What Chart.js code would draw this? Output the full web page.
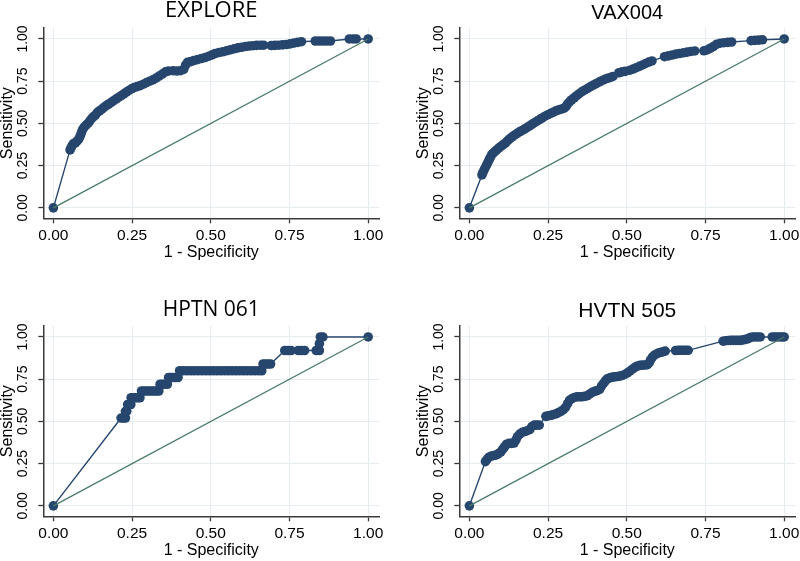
<!DOCTYPE html>
<html>
<head>
<meta charset="utf-8">
<script src="https://cdn.jsdelivr.net/npm/chart.js@4.4.1/dist/chart.umd.min.js"></script>
<style>
  body { margin: 0; background: #fff; }
  #wrap { position: relative; width: 800px; height: 561px; background: #fff; }
  canvas { position: absolute; }
</style>
</head>
<body>
<div id="wrap">
  <canvas id="p1" width="384" height="263" style="left:0;top:0"></canvas>
  <canvas id="p2" width="384" height="263" style="left:416px;top:0"></canvas>
  <canvas id="p3" width="384" height="263" style="left:0;top:298px"></canvas>
  <canvas id="p4" width="384" height="263" style="left:416px;top:298px"></canvas>
</div>
<script>
// tick labels on both axes
const tickValues = [0, 0.25, 0.5, 0.75, 1];
const panelTitles = ['EXPLORE', 'VAX004', 'HPTN 061', 'HVTN 505'];

// [1 - specificity, sensitivity]
const exploreRoc = [[0,0],
  [0.053,0.343],[0.056,0.355],[0.060,0.370],[0.064,0.380],[0.070,0.385],[0.075,0.395],[0.080,0.405],[0.084,0.420],[0.087,0.435],[0.090,0.450],
  [0.093,0.465],[0.098,0.478],[0.104,0.490],[0.110,0.500],[0.116,0.515],[0.122,0.530],[0.128,0.540],[0.134,0.550],[0.140,0.565],[0.147,0.575],
  [0.154,0.585],[0.161,0.595],[0.168,0.605],[0.176,0.615],[0.184,0.625],[0.192,0.635],[0.200,0.645],[0.208,0.655],[0.216,0.665],[0.224,0.675],
  [0.232,0.685],[0.240,0.695],[0.248,0.705],[0.256,0.712],[0.266,0.718],[0.276,0.724],[0.286,0.732],[0.296,0.742],[0.306,0.750],[0.316,0.758],
  [0.326,0.768],[0.336,0.780],[0.346,0.792],[0.356,0.805],[0.365,0.810],
  [0.380,0.812],[0.392,0.810],[0.404,0.812],[0.414,0.820],[0.420,0.845],[0.426,0.862],[0.436,0.866],[0.446,0.872],[0.458,0.878],[0.470,0.884],
  [0.482,0.890],[0.494,0.898],[0.504,0.906],[0.514,0.914],[0.526,0.920],[0.538,0.924],[0.550,0.930],[0.562,0.936],[0.574,0.942],[0.586,0.947],
  [0.598,0.951],[0.610,0.955],[0.622,0.958],[0.634,0.960],[0.646,0.962],[0.658,0.963],[0.668,0.963],
  [0.692,0.961],[0.704,0.962],[0.716,0.963],[0.728,0.965],[0.740,0.967],[0.752,0.971],[0.764,0.976],[0.776,0.980],[0.788,0.984],
  [0.832,0.988],[0.844,0.988],[0.856,0.988],[0.868,0.988],[0.880,0.988],
  [0.940,1],[0.952,1],[0.962,1],
  [1,1]];

const vax004Roc = [[0,0],
  [0.040,0.195],[0.043,0.210],[0.047,0.225],[0.051,0.240],[0.055,0.255],[0.059,0.270],[0.063,0.285],[0.067,0.300],[0.071,0.315],[0.076,0.325],
  [0.082,0.335],[0.088,0.345],[0.094,0.355],[0.101,0.365],[0.108,0.375],[0.115,0.385],[0.122,0.398],[0.129,0.410],[0.136,0.420],[0.143,0.430],
  [0.151,0.440],[0.159,0.450],[0.167,0.458],[0.175,0.466],[0.183,0.475],[0.191,0.485],[0.199,0.495],[0.207,0.504],[0.215,0.514],[0.223,0.523],
  [0.231,0.532],[0.239,0.541],[0.248,0.550],[0.257,0.558],[0.266,0.566],[0.275,0.574],[0.284,0.580],[0.293,0.585],[0.301,0.590],[0.307,0.600],
  [0.312,0.615],[0.318,0.628],[0.325,0.640],[0.333,0.652],[0.341,0.664],[0.349,0.676],[0.358,0.688],[0.367,0.698],[0.376,0.708],[0.385,0.718],
  [0.394,0.727],[0.403,0.736],[0.412,0.745],[0.421,0.753],[0.430,0.761],[0.439,0.767],[0.448,0.772],[0.456,0.778],
  [0.475,0.800],[0.485,0.805],[0.495,0.808],
  [0.510,0.815],[0.520,0.822],[0.530,0.830],[0.540,0.838],[0.550,0.846],[0.560,0.855],[0.570,0.863],[0.580,0.870],
  [0.620,0.895],[0.632,0.900],[0.644,0.905],[0.656,0.910],[0.668,0.914],[0.680,0.918],[0.692,0.922],[0.704,0.926],[0.716,0.929],
  [0.745,0.930],[0.755,0.935],[0.765,0.945],[0.775,0.955],[0.785,0.968],[0.797,0.975],[0.809,0.978],[0.821,0.980],[0.833,0.982],
  [0.895,0.990],[0.907,0.992],[0.919,0.993],[0.931,0.995],
  [1,1]];

const hptn061Roc = [[0,0],
  [0.215,0.52],[0.222,0.52],[0.229,0.52],[0.229,0.56],[0.233,0.56],[0.236,0.60],[0.242,0.60],[0.246,0.60],
  [0.247,0.64],[0.253,0.64],[0.260,0.64],[0.268,0.64],[0.275,0.64],
  [0.280,0.68],[0.287,0.68],[0.295,0.68],[0.303,0.68],[0.311,0.68],[0.319,0.68],[0.327,0.68],[0.335,0.68],
  [0.339,0.72],[0.346,0.72],[0.354,0.72],[0.362,0.72],
  [0.366,0.76],[0.373,0.76],[0.380,0.76],[0.388,0.76],[0.396,0.76],
  [0.401,0.80],[0.412,0.80],[0.424,0.80],[0.436,0.80],[0.448,0.80],[0.460,0.80],[0.472,0.80],[0.484,0.80],[0.496,0.80],[0.508,0.80],
  [0.520,0.80],[0.532,0.80],[0.544,0.80],[0.556,0.80],[0.568,0.80],[0.580,0.80],[0.592,0.80],[0.604,0.80],[0.616,0.80],[0.628,0.80],
  [0.640,0.80],[0.652,0.80],[0.662,0.80],
  [0.666,0.84],[0.674,0.84],[0.682,0.84],[0.690,0.84],
  [0.735,0.92],[0.745,0.92],[0.755,0.92],
  [0.778,0.92],[0.788,0.92],[0.798,0.92],
  [0.835,0.92],[0.845,0.92],[0.845,0.96],[0.848,1.00],[0.856,1.00],
  [1,1]];

const hvtn505Roc = [[0,0],
  [0.051,0.262],[0.056,0.275],[0.062,0.288],[0.070,0.295],[0.078,0.298],[0.086,0.302],[0.093,0.310],[0.100,0.320],[0.106,0.335],[0.112,0.350],
  [0.118,0.365],[0.126,0.370],[0.134,0.370],[0.142,0.372],[0.148,0.390],[0.153,0.410],[0.160,0.425],[0.168,0.435],[0.176,0.440],[0.184,0.445],
  [0.192,0.452],[0.199,0.470],[0.206,0.478],[0.214,0.478],[0.222,0.478],
  [0.243,0.530],[0.251,0.533],[0.259,0.536],[0.267,0.540],[0.275,0.545],[0.283,0.552],[0.291,0.560],[0.299,0.570],[0.306,0.585],[0.312,0.605],
  [0.318,0.625],[0.326,0.635],[0.334,0.642],[0.342,0.646],[0.350,0.646],[0.358,0.646],[0.366,0.648],[0.374,0.652],[0.382,0.662],[0.390,0.672],
  [0.398,0.678],[0.406,0.682],[0.414,0.690],[0.420,0.710],[0.426,0.725],[0.432,0.740],[0.438,0.752],[0.446,0.758],[0.454,0.762],[0.462,0.764],
  [0.470,0.766],[0.478,0.768],[0.486,0.772],[0.494,0.778],[0.502,0.788],[0.510,0.798],[0.518,0.810],[0.526,0.820],[0.534,0.828],[0.542,0.832],
  [0.550,0.833],[0.558,0.834],[0.566,0.836],[0.572,0.850],[0.576,0.866],[0.582,0.882],[0.590,0.895],[0.598,0.903],[0.606,0.908],[0.614,0.912],
  [0.622,0.916],
  [0.655,0.920],[0.663,0.921],[0.671,0.921],[0.679,0.921],[0.687,0.921],[0.695,0.921],
  [0.806,0.975],[0.814,0.978],[0.822,0.979],[0.830,0.980],[0.838,0.980],[0.846,0.980],[0.854,0.980],[0.862,0.980],[0.870,0.983],[0.878,0.986],
  [0.886,0.990],[0.892,0.996],[0.900,1],[0.908,1],[0.916,1],[0.924,1],
  [0.962,1],[0.970,1],[0.978,1],[0.986,1],[0.994,1],
  [1,1]];

const chanceLine = [[0,0],[1,1]];

const navy = '#27466e';
const green = '#4a7c68';
const axisCol = '#3a3a3a';
const gridCol = '#e6edf1';
const axisFont = 'Liberation Sans, Arial, sans-serif';

const panels = [
  { id: 'p1', roc: exploreRoc, family: 'Open Sans', size: 22, padTop: 0 },
  { id: 'p2', roc: vax004Roc, family: axisFont, size: 20, padTop: 3 },
  { id: 'p3', roc: hptn061Roc, family: 'Open Sans', size: 21, padTop: 2 },
  { id: 'p4', roc: hvtn505Roc, family: axisFont, size: 21, padTop: 3 }
];

const fixTicks = function(scale) {
  scale.ticks = tickValues.map(v => ({ value: v }));
};

panels.forEach(function(p, i) {
  new Chart(document.getElementById(p.id), {
    type: 'scatter',
    data: {
      datasets: [{
        data: chanceLine.map(d => ({ x: d[0], y: d[1] })),
        showLine: true,
        borderColor: green,
        borderWidth: 1.3,
        pointRadius: 0
      }, {
        data: p.roc.map(d => ({ x: d[0], y: d[1] })),
        showLine: true,
        tension: 0,
        borderColor: navy,
        borderWidth: 1.4,
        pointRadius: 4.8,
        pointHoverRadius: 4.8,
        pointBorderWidth: 0,
        pointBackgroundColor: navy
      }]
    },
    options: {
      responsive: false,
      devicePixelRatio: 1,
      animation: false,
      events: [],
      layout: { padding: { left: 0, right: 4, top: 0, bottom: 0 } },
      plugins: {
        legend: { display: false },
        tooltip: { enabled: false },
        title: {
          display: true,
          text: panelTitles[i],
          fullSize: false,
          color: '#000',
          font: { family: p.family, size: p.size, weight: 'normal', lineHeight: 1 },
          padding: { top: p.padTop, bottom: 28 - p.size - p.padTop }
        }
      },
      scales: {
        x: {
          type: 'linear',
          min: -0.032,
          max: 1.035,
          afterBuildTicks: fixTicks,
          afterFit: function(s) { s.height = 263 - 218.3; s.paddingLeft = 0; s.paddingRight = 0; },
          ticks: {
            callback: v => v.toFixed(2),
            color: '#000',
            font: { family: axisFont, size: 15.5 },
            padding: 3,
            maxRotation: 0,
            autoSkip: false
          },
          grid: { color: gridCol, lineWidth: 1, tickColor: axisCol, tickLength: 5, tickWidth: 1.3 },
          border: { color: axisCol, width: 1.5 },
          title: {
            display: true,
            text: '1 - Specificity',
            color: '#000',
            font: { family: axisFont, size: 16, lineHeight: 1 },
            padding: { top: 0, bottom: 2 }
          }
        },
        y: {
          type: 'linear',
          min: -0.062,
          max: 1.065,
          afterBuildTicks: fixTicks,
          afterFit: function(s) { s.width = 43.3; s.paddingTop = 0; s.paddingBottom = 0; },
          ticks: {
            callback: v => v.toFixed(2),
            color: '#000',
            font: { family: axisFont, size: 14 },
            padding: 2,
            minRotation: 90,
            maxRotation: 90,
            crossAlign: 'center',
            autoSkip: false
          },
          grid: { color: gridCol, lineWidth: 1, tickColor: axisCol, tickLength: 5, tickWidth: 1.3 },
          border: { color: axisCol, width: 1.5 },
          title: {
            display: true,
            text: 'Sensitivity',
            color: '#000',
            font: { family: axisFont, size: 16, lineHeight: 1 },
            padding: { top: 0, bottom: 0 }
          }
        }
      }
    }
  });
});
</script>
</body>
</html>
